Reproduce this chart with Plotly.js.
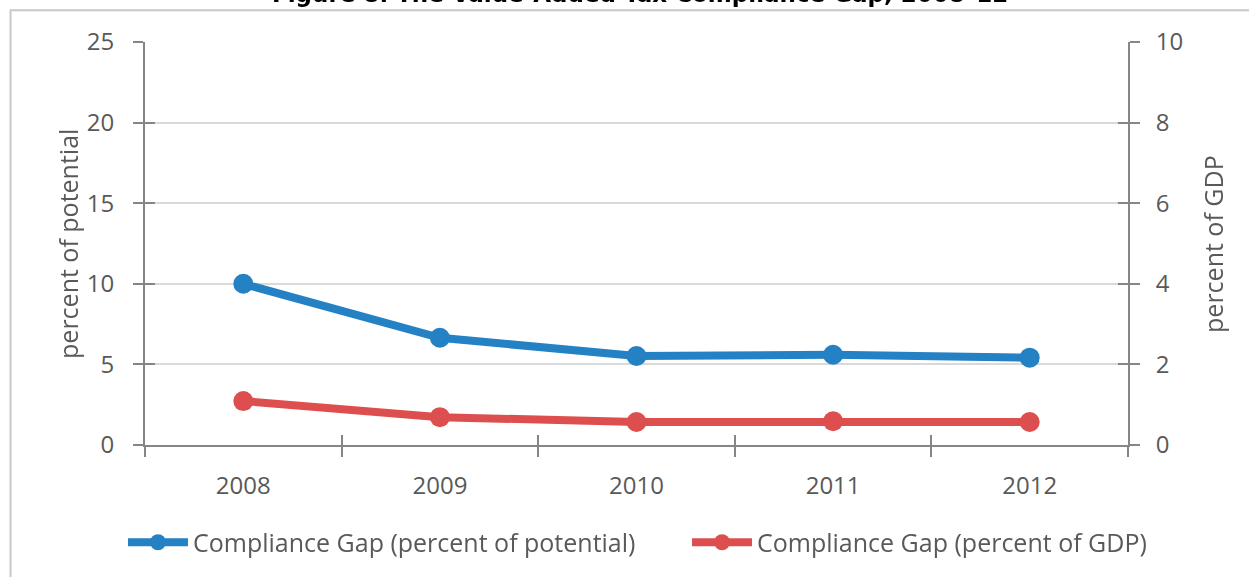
<!DOCTYPE html>
<html>
<head>
<meta charset="utf-8">
<script src="https://cdn.plot.ly/plotly-3.0.1.min.js"></script>
<style>html,body{margin:0;padding:0;background:#fff;}#chart{width:1249px;height:577px;}</style>
</head>
<body>
<div id="chart"></div>
<script>
var years = ['2008', '2009', '2010', '2011', '2012'];
var gapPotential = [10.0, 6.65, 5.52, 5.6, 5.42];
var gapGDP = [1.09, 0.69, 0.57, 0.59, 0.57];
var leftTicks = [0, 5, 10, 15, 20, 25];
var rightTicks = [0, 2, 4, 6, 8, 10];
var seriesNames = ['Compliance Gap (percent of potential)', 'Compliance Gap (percent of GDP)'];

var BLUE = '#2481c4', RED = '#dd4f4f', AX = '#868686', TXT = '#595959';
var F = 'Open Sans, Noto Sans, sans-serif';

var traces = [
  {x: years, y: gapPotential, name: seriesNames[0], type: 'scatter', mode: 'lines+markers',
   line: {color: BLUE, width: 8}, marker: {color: BLUE, size: 20}, xaxis: 'x', yaxis: 'y', legend: 'legend'},
  {x: years, y: gapGDP, name: seriesNames[1], type: 'scatter', mode: 'lines+markers',
   line: {color: RED, width: 8}, marker: {color: RED, size: 20}, xaxis: 'x', yaxis: 'y2', legend: 'legend2'},
  {x: years, y: gapPotential, type: 'scatter', mode: 'markers', opacity: 0, showlegend: false,
   hoverinfo: 'skip', xaxis: 'x2', yaxis: 'y3'},
  {x: years, y: gapGDP, type: 'scatter', mode: 'markers', opacity: 0, showlegend: false,
   hoverinfo: 'skip', xaxis: 'x2', yaxis: 'y4'}
];

var legendBase = {orientation: 'h', xanchor: 'left', y: -0.242, yanchor: 'middle',
  font: {size: 25, color: TXT, family: F}, bgcolor: 'rgba(0,0,0,0)', itemwidth: 60};

var layout = {
  width: 1249, height: 577,
  margin: {l: 145, r: 121, t: 42, b: 130},
  paper_bgcolor: '#fff', plot_bgcolor: 'rgba(0,0,0,0)',
  font: {family: F, color: TXT, size: 24},
  showlegend: true,
  xaxis: {type: 'category', categoryarray: years, range: [-0.5, 4.5], tickson: 'boundaries',
    ticks: 'outside', ticklen: 10, tickwidth: 2, tickcolor: AX, showline: true, linecolor: AX, linewidth: 2,
    showgrid: false, zeroline: false, tickfont: {size: 24, color: TXT}, ticklabelstandoff: 18, automargin: false},
  xaxis2: {type: 'category', categoryarray: years, range: [-0.5, 4.5], tickson: 'boundaries', overlaying: 'x',
    ticks: 'inside', ticklen: 10, tickwidth: 2, tickcolor: AX, showticklabels: false, showline: false,
    showgrid: false, zeroline: false, anchor: 'y3'},
  yaxis: {range: [0, 25], tickvals: leftTicks, ticks: 'outside', ticklen: 10, tickwidth: 2, tickcolor: AX,
    showline: true, linecolor: AX, linewidth: 2, showgrid: true, gridcolor: '#d9d9d9', gridwidth: 2,
    zeroline: false, tickfont: {size: 24, color: TXT}, ticklabelstandoff: 14, automargin: false},
  yaxis2: {range: [0, 10], tickvals: rightTicks, overlaying: 'y', side: 'right', anchor: 'x',
    ticks: 'outside', ticklen: 10, tickwidth: 2, tickcolor: AX, showline: true, linecolor: AX, linewidth: 2,
    showgrid: false, zeroline: false, tickfont: {size: 24, color: TXT}, ticklabelstandoff: 11, automargin: false},
  yaxis3: {range: [0, 25], tickvals: leftTicks, overlaying: 'y', side: 'left', anchor: 'x2',
    ticks: 'inside', ticklen: 10, tickwidth: 2, tickcolor: AX, showticklabels: false, showline: false,
    showgrid: false, zeroline: false},
  yaxis4: {range: [0, 10], tickvals: rightTicks, overlaying: 'y', side: 'right', anchor: 'x2',
    ticks: 'inside', ticklen: 10, tickwidth: 2, tickcolor: AX, showticklabels: false, showline: false,
    showgrid: false, zeroline: false},
  legend: Object.assign({}, legendBase, {x: -0.0224}),
  legend2: Object.assign({}, legendBase, {x: 0.5514}),
  annotations: [
    {text: 'Figure 8. The Value-Added Tax Compliance Gap, 2008–12', xref: 'paper', yref: 'paper',
     x: 0.504, y: 1.118, xanchor: 'center', yanchor: 'middle', showarrow: false,
     font: {family: 'DejaVu Sans, sans-serif', size: 23, color: '#000', weight: 'bold'}},
    {text: 'percent of potential', xref: 'paper', yref: 'paper', x: -0.0783, y: 0.499,
     xanchor: 'center', yanchor: 'middle', textangle: -90, showarrow: false, font: {size: 25, color: TXT}},
    {text: 'percent of GDP', xref: 'paper', yref: 'paper', x: 1.0865, y: 0.499,
     xanchor: 'center', yanchor: 'middle', textangle: -90, showarrow: false, font: {size: 25, color: TXT}}
  ],
  shapes: [
    {type: 'rect', xref: 'paper', yref: 'paper', x0: -0.1368, x1: 1.3, y0: -0.5, y1: 1.079,
     line: {color: '#c8c8c8', width: 2}, fillcolor: 'rgba(0,0,0,0)', layer: 'below'}
  ]
};

Plotly.newPlot('chart', traces, layout, {displayModeBar: false, staticPlot: true});
</script>
</body>
</html>
